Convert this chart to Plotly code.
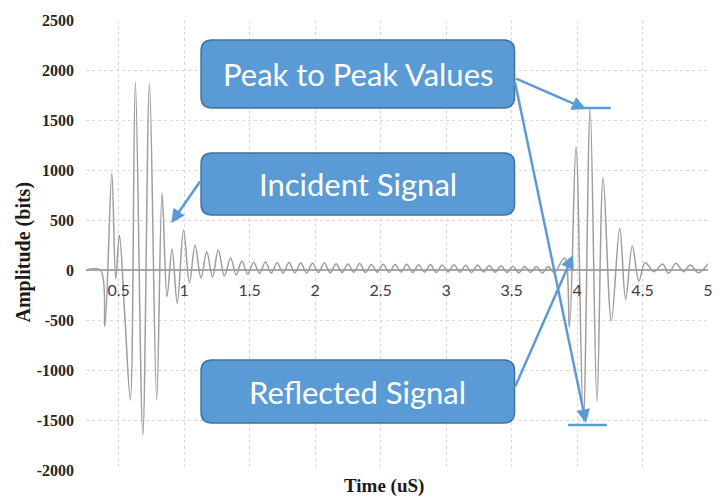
import plotly.graph_objects as go

# ---- waveform extrema (time in uS, amplitude in bits) ----
incident_t = [0.25, 0.36, 0.394, 0.447, 0.477, 0.505, 0.545, 0.589, 0.627, 0.684,
              0.735, 0.790, 0.831, 0.869, 0.907, 0.947, 0.995, 1.040, 1.083, 1.128,
              1.172, 1.216, 1.260, 1.307, 1.354, 1.397]
incident_a = [0, 0, -560, 967, -90, 350, -430, -1300, 1883, -1650,
              1867, -1300, 767, -267, 210, -333, 400, -130, 250, -80,
              183, -70, 200, -60, 120, -50]

tail_t = [1.440, 1.485, 1.530, 1.575, 1.620, 1.665, 1.710, 1.755, 1.800, 1.845,
          1.890, 1.935, 1.980, 2.025, 2.070, 2.115, 2.160, 2.205, 2.250, 2.295,
          2.340, 2.385, 2.430, 2.475, 2.520, 2.565, 2.610, 2.655, 2.700, 2.745,
          2.790, 2.835, 2.880, 2.925, 2.970, 3.015, 3.060, 3.105, 3.150, 3.195,
          3.240, 3.285, 3.330, 3.375, 3.420, 3.465, 3.510, 3.555, 3.600, 3.645,
          3.690, 3.735, 3.780, 3.825]
tail_a = [90, -40, 78, -35, 80, -30, 72, -32, 76, -28,
          70, -30, 68, -25, 70, -28, 62, -25, 60, -22,
          64, -26, 56, -22, 58, -24, 55, -20, 57, -24,
          52, -22, 55, -25, 50, -20, 52, -22, 48, -24,
          50, -20, 45, -22, 42, -25, 38, -28, 36, -25,
          34, -30, 35, -25]

reflected_t = [3.905, 3.942, 3.992, 4.048, 4.100, 4.152, 4.199, 4.262, 4.326, 4.371,
               4.422, 4.472, 4.520, 4.586, 4.654, 4.699, 4.755, 4.813, 4.864, 4.927,
               5.000]
reflected_a = [120, -567, 1233, -1517, 1617, -1317, 923, -507, 417, -293,
               240, -110, 75, -17, 60, -33, 67, -17, 50, -27,
               63]

x_tick_vals = [0.5, 1, 1.5, 2, 2.5, 3, 3.5, 4, 4.5, 5]
x_tick_text = ["0.5", "1", "1.5", "2", "2.5", "3", "3.5", "4", "4.5", "5"]
y_tick_vals = [-2000, -1500, -1000, -500, 0, 500, 1000, 1500, 2000, 2500]
y_tick_text = ["-2000", "-1500", "-1000", "-500", "0", "500", "1000", "1500", "2000", "2500"]

box_labels = ["Peak to Peak Values", "Incident Signal", "Reflected Signal"]

# ---- layout geometry (pixels) ----
W, H = 725, 501
ML, MR, MT, MB = 86, 12, 20, 31
PW, PH = W - ML - MR, H - MT - MB
X0, X1 = 0.25, 5.0
Y0, Y1 = -2000, 2500


def px(x):
    return (x - ML) / PW


def py(y):
    return (H - MB - y) / PH


def dx(x):
    return X0 + (x - ML) / PW * (X1 - X0)


def dy(y):
    return Y0 + (H - MB - y) / PH * (Y1 - Y0)


def rrect(x0, y0, x1, y1, r):
    pts = [
        ("M", [(x0 + r, y0)]),
        ("L", [(x1 - r, y0)]),
        ("Q", [(x1, y0), (x1, y0 + r)]),
        ("L", [(x1, y1 - r)]),
        ("Q", [(x1, y1), (x1 - r, y1)]),
        ("L", [(x0 + r, y1)]),
        ("Q", [(x0, y1), (x0, y1 - r)]),
        ("L", [(x0, y0 + r)]),
        ("Q", [(x0, y0), (x0 + r, y0)]),
    ]
    s = ""
    for cmd, ps in pts:
        s += cmd + " " + " ".join(f"{px(a):.5f},{py(b):.5f}" for a, b in ps) + " "
    return s + "Z"


t = incident_t + tail_t + reflected_t
a = incident_a + tail_a + reflected_a

fig = go.Figure()
fig.add_trace(go.Scatter(
    x=t, y=a, mode="lines",
    line=dict(color="#9e9e9e", width=1.5, shape="spline", smoothing=1.0),
    hoverinfo="skip", showlegend=False,
))

BLUE = "#5b9bd5"
EDGE = "#41719c"
boxes = [(202, 40, 518, 108), (202, 153, 518, 215), (202, 360, 518, 423)]
shapes = []
annotations = []
for (bx0, by0, bx1, by1), label in zip(boxes, box_labels):
    shapes.append(dict(type="path", xref="paper", yref="paper",
                       path=rrect(bx0, by0, bx1, by1, 11),
                       fillcolor=BLUE, line=dict(color=EDGE, width=1.5), layer="above"))
    annotations.append(dict(xref="paper", yref="paper",
                            x=px((bx0 + bx1) / 2), y=py((by0 + by1) / 2),
                            xanchor="center", yanchor="middle", showarrow=False,
                            text=label, font=dict(family="Lato", size=31, color="white")))

# peak-to-peak bars
shapes.append(dict(type="line", xref="x", yref="y", x0=dx(575), x1=dx(615), y0=dy(108), y1=dy(108),
                   line=dict(color=BLUE, width=2.5), layer="above"))
shapes.append(dict(type="line", xref="x", yref="y", x0=dx(572), x1=dx(611), y0=dy(425), y1=dy(425),
                   line=dict(color=BLUE, width=2.5), layer="above"))

arrows = [
    ((202, 180), (172, 223)),
    ((518, 78), (590, 109)),
    ((518, 80), (590, 423)),
    ((518, 388), (577, 255)),
]
for (tx, ty), (hx, hy) in arrows:
    annotations.append(dict(x=dx(hx), y=dy(hy), ax=dx(tx), ay=dy(ty),
                            xref="x", yref="y", axref="x", ayref="y",
                            text="", showarrow=True, arrowhead=2, arrowsize=1.1,
                            arrowwidth=2.5, arrowcolor=BLUE, standoff=0))

# axis titles
annotations.append(dict(xref="paper", yref="paper", x=px(22), y=py(252),
                        xanchor="center", yanchor="middle", textangle=-90, showarrow=False,
                        text="Amplitude (bits)",
                        font=dict(family="Liberation Serif", size=20, color="#1a1a1a", weight="bold")))
annotations.append(dict(xref="paper", yref="paper", x=px(386), y=py(486),
                        xanchor="center", yanchor="middle", showarrow=False,
                        text="Time (uS)",
                        font=dict(family="Liberation Serif", size=19, color="#1a1a1a", weight="bold")))

fig.update_layout(
    width=W, height=H, autosize=False,
    margin=dict(l=ML, r=MR, t=MT, b=MB, pad=0),
    paper_bgcolor="white", plot_bgcolor="white",
    shapes=shapes, annotations=annotations,
    xaxis=dict(range=[X0, X1], tickvals=x_tick_vals, ticktext=x_tick_text,
               showgrid=True, gridcolor="#d9d9d9", griddash="dot", gridwidth=1,
               zeroline=False, showline=False, ticks="",
               anchor="free", position=(0 - Y0) / (Y1 - Y0),
               tickfont=dict(family="Lato", size=16, color="#404040"),
               ticklabelstandoff=9, fixedrange=True),
    yaxis=dict(range=[Y0, Y1], tickvals=y_tick_vals, ticktext=y_tick_text,
               showgrid=True, gridcolor="#d9d9d9", griddash="dot", gridwidth=1,
               zeroline=True, zerolinecolor="#a8a8a8", zerolinewidth=1.5,
               showline=False, ticks="",
               tickfont=dict(family="Liberation Serif", size=16, color="#262626", weight="bold"),
               ticklabelstandoff=11, fixedrange=True),
)

fig.write_html("out.html")
